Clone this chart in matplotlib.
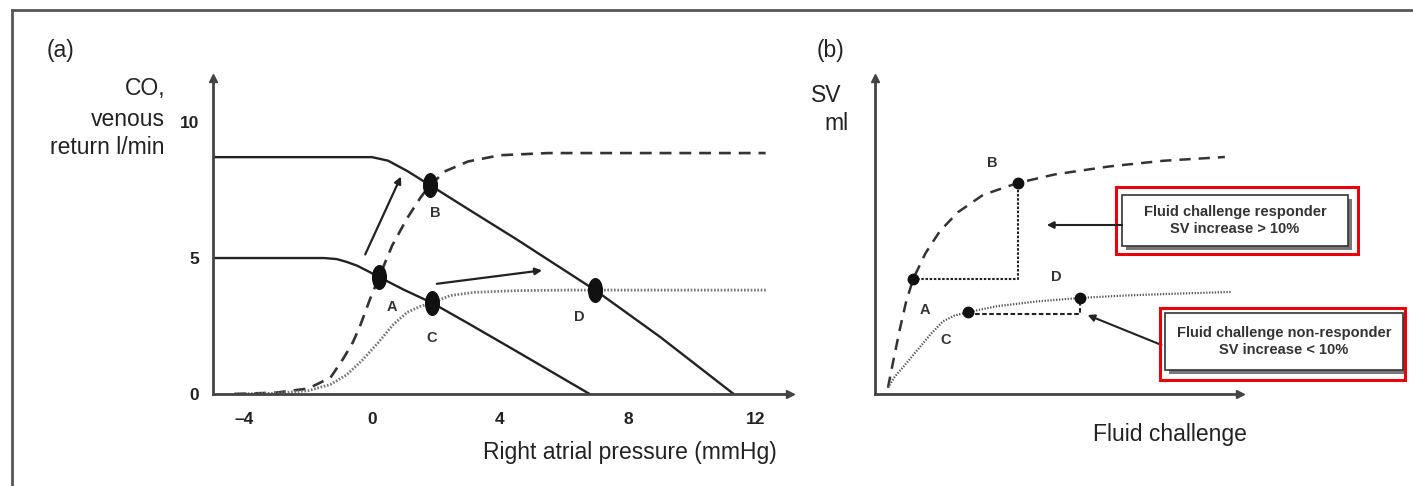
import numpy as np
import matplotlib.pyplot as plt
from matplotlib.path import Path
from matplotlib.patches import Rectangle
from matplotlib.lines import Line2D

plt.rcParams["font.family"] = ["Liberation Sans", "DejaVu Sans"]

# ---- panel (a): venous return / cardiac function curves ----
vr_low_x = [-4.97, -1.5, -1.1, -0.8, -0.47, -0.1, 0.22, 1.0, 1.875, 3.0, 4.5, 6.8]
vr_low_y = [5.0, 5.0, 4.96, 4.86, 4.72, 4.5, 4.3, 3.83, 3.35, 2.6, 1.58, 0.0]
vr_high_x = [-4.97, 0.0, 0.5, 1.1, 1.81, 3.0, 4.5, 6.97, 9.0, 11.3]
vr_high_y = [8.71, 8.71, 8.58, 8.2, 7.68, 6.8, 5.7, 3.82, 2.1, 0.0]
norm_x = [-4.3, -3.0, -2.0, -1.3, -0.9, -0.6, -0.375, -0.06, 0.22, 0.625, 1.09, 1.5,
          1.81, 2.3, 3.0, 4.0, 5.5, 12.3]
norm_y = [0.0, 0.05, 0.2, 0.6, 1.3, 1.9, 2.5, 3.5, 4.3, 5.45, 6.45, 7.2,
          7.68, 8.2, 8.55, 8.78, 8.86, 8.86]
fail_x = [-4.3, -3.0, -2.0, -1.3, -0.8, -0.3, 0.2, 0.66, 1.09, 1.5, 1.875, 2.44,
          3.2, 4.5, 6.0, 12.3]
fail_y = [0.0, 0.03, 0.12, 0.35, 0.7, 1.25, 1.9, 2.55, 3.0, 3.22, 3.35, 3.62,
          3.74, 3.8, 3.82, 3.82]
pts_a = {"A": (0.22, 4.3), "B": (1.81, 7.68), "C": (1.875, 3.35), "D": (6.97, 3.82)}
lbl_a = {"A": (0.62, 3.2), "B": (1.97, 6.65), "C": (1.875, 2.06), "D": (6.47, 2.83)}
xticks_a = [-4, 0, 4, 8, 12]
xticklabels_a = ["\u20134", "0", "4", "8", "12"]
yticks_a = [0, 5, 10]

# ---- panel (b): SV vs fluid challenge ----
resp_x = [0.36, 0.5, 0.68, 0.86, 1.06, 1.4, 1.8, 2.3, 3.0, 3.97, 5.0, 6.5, 8.0, 9.72]
resp_y = [0.2, 1.0, 2.0, 2.9, 3.64, 4.45, 5.15, 5.75, 6.3, 6.68, 6.95, 7.2, 7.38, 7.5]
nonr_x = [0.36, 0.55, 0.78, 1.0, 1.25, 1.55, 1.89, 2.2, 2.58, 3.4, 4.5, 5.7, 7.0, 8.5, 9.92]
nonr_y = [0.2, 0.55, 0.85, 1.15, 1.49, 1.9, 2.3, 2.48, 2.59, 2.78, 2.93, 3.04, 3.12, 3.18, 3.23]
pts_b = {"A": (1.06, 3.64), "B": (3.97, 6.68), "C": (2.58, 2.59), "D": (5.7, 3.04)}
lbl_b = {"A": (1.39, 2.66), "B": (3.25, 7.31), "C": (1.97, 1.71), "D": (5.03, 3.7)}

W, H = 1413, 486
fig = plt.figure(figsize=(W / 100, H / 100), dpi=100)


def fx(px):
    return px / W


def fy(py):
    return 1 - py / H


ink = "#222222"
axis_col = "#444444"

# tall ellipse marker
circ = Path.unit_circle()
ell = Path(circ.vertices * np.array([0.58, 1.0]), circ.codes)


def arrow_axes(ax):
    for s in ["top", "right"]:
        ax.spines[s].set_visible(False)
    for s in ["left", "bottom"]:
        ax.spines[s].set_color(axis_col)
        ax.spines[s].set_linewidth(2)
    ax.plot(1, 0, ">", color=axis_col, ms=6, transform=ax.transAxes, clip_on=False)
    ax.plot(0, 1, "^", color=axis_col, ms=6, transform=ax.transAxes, clip_on=False)
    ax.tick_params(length=0, colors=ink)


# panel (a)
ax1 = fig.add_axes([fx(213), fy(394), fx(790 - 213), (394 - 78) / H])
ax1.set_xlim(-4.97, 13.06)
ax1.set_ylim(0, 11.62)
arrow_axes(ax1)
ax1.plot(vr_low_x, vr_low_y, color=ink, lw=1.7)
ax1.plot(vr_high_x, vr_high_y, color=ink, lw=1.7)
ax1.plot(norm_x, norm_y, color="#333333", lw=1.9, dashes=[4.5, 3.0])
ax1.plot(fail_x, fail_y, color="#777777", lw=2.0, dashes=[0.6, 0.6])
for k, (x, y) in pts_a.items():
    ax1.plot(x, y, marker=ell, ms=17, color="#111111", zorder=5)
    ax1.text(*lbl_a[k], k, ha="center", va="center", fontsize=10.5, fontweight="bold", color="#333333")
ax1.annotate("", xy=(0.94, 8.09), xytext=(-0.25, 5.04),
             arrowprops=dict(arrowstyle="-|>", color=ink, lw=1.6, mutation_scale=10))
ax1.annotate("", xy=(5.4, 4.56), xytext=(1.94, 4.04),
             arrowprops=dict(arrowstyle="-|>", color=ink, lw=1.6, mutation_scale=10))
ax1.set_xticks(xticks_a)
ax1.set_xticklabels(xticklabels_a, fontsize=12.5, fontweight="bold")
ax1.set_yticks(yticks_a)
ax1.set_yticklabels([str(v) for v in yticks_a], fontsize=12.5, fontweight="bold")
ax1.tick_params(axis="x", pad=13)
ax1.tick_params(axis="y", pad=10)
fig.text(fx(630), fy(452), "Right atrial pressure (mmHg)", ha="center", va="center", fontsize=16.5, color=ink)
fig.text(fx(165), fy(89), "CO,", ha="right", va="center", fontsize=16.5, color=ink)
fig.text(fx(165), fy(119), "venous", ha="right", va="center", fontsize=16.5, color=ink)
fig.text(fx(165), fy(147), "return l/min", ha="right", va="center", fontsize=16.5, color=ink)
fig.text(fx(60), fy(51), "(a)", ha="center", va="center", fontsize=16.5, color=ink)

# panel (b)
ax2 = fig.add_axes([fx(875), fy(394), fx(1240 - 875), (394 - 78) / H])
ax2.set_xlim(0, 10.14)
ax2.set_ylim(0, 10)
arrow_axes(ax2)
ax2.set_xticks([])
ax2.set_yticks([])
ax2.plot(resp_x, resp_y, color="#333333", lw=1.8, dashes=[4.5, 3.2])
ax2.plot(nonr_x, nonr_y, color="#555555", lw=1.6, dashes=[0.6, 0.7])
ax2.plot([pts_b["A"][0], pts_b["B"][0], pts_b["B"][0]],
         [pts_b["A"][1], pts_b["A"][1], pts_b["B"][1]], color=ink, lw=1.5, dashes=[1.2, 0.8])
ax2.plot([pts_b["C"][0], pts_b["D"][0], pts_b["D"][0]],
         [pts_b["C"][1] - 0.05, pts_b["C"][1] - 0.05, pts_b["D"][1]], color=ink, lw=1.5, dashes=[2.2, 1.2])
for k, (x, y) in pts_b.items():
    ax2.plot(x, y, "o", ms=7.5, color="#111111", zorder=5)
    ax2.text(*lbl_b[k], k, ha="center", va="center", fontsize=10.5, fontweight="bold", color="#333333")
fig.text(fx(1170), fy(434), "Fluid challenge", ha="center", va="center", fontsize=16.5, color=ink)
fig.text(fx(826), fy(95), "SV", ha="center", va="center", fontsize=16.5, color=ink)
fig.text(fx(836), fy(123), "ml", ha="center", va="center", fontsize=16.5, color=ink)
fig.text(fx(830), fy(50), "(b)", ha="center", va="center", fontsize=16.5, color=ink)


def callout(x0, y0, x1, y1, rx0, ry0, rx1, ry1, txt):
    # shadow, box, red frame, text
    fig.add_artist(Rectangle((fx(x0 + 4), fy(y1 + 4)), fx(x1 - x0), (y1 - y0) / H,
                             facecolor="#777777", edgecolor="none", transform=fig.transFigure))
    fig.add_artist(Rectangle((fx(x0), fy(y1)), fx(x1 - x0), (y1 - y0) / H,
                             facecolor="white", edgecolor="#333333", lw=1.2, transform=fig.transFigure))
    fig.add_artist(Rectangle((fx(rx0), fy(ry1)), fx(rx1 - rx0), (ry1 - ry0) / H,
                             facecolor="none", edgecolor="#e8000b", lw=2.2, transform=fig.transFigure))
    fig.text(fx((x0 + x1) / 2), fy((y0 + y1) / 2), txt, ha="center", va="center",
             fontsize=10.5, fontweight="bold", color="#333333", linespacing=1.2)


callout(1122, 195, 1348, 246, 1116, 187, 1358, 254, "Fluid challenge responder\nSV increase > 10%")
callout(1165, 313, 1403, 370, 1160, 308, 1405, 380, "Fluid challenge non-responder\nSV increase < 10%")
fig.add_artist(Line2D([fx(1122), fx(1055)], [fy(225), fy(225)], color=ink, lw=1.5, transform=fig.transFigure))
ax2.annotate("", xy=(fx(1044), fy(225)), xytext=(fx(1060), fy(225)), xycoords="figure fraction",
             arrowprops=dict(arrowstyle="-|>", color=ink, lw=1.5, mutation_scale=10))
ax2.annotate("", xy=(fx(1085), fy(314)), xytext=(fx(1164), fy(346)), xycoords="figure fraction",
             arrowprops=dict(arrowstyle="-|>", color=ink, lw=1.5, mutation_scale=10))

# outer frame
fig.add_artist(Line2D([fx(12), 1], [fy(10), fy(10)], color="#555555", lw=2, transform=fig.transFigure))
fig.add_artist(Line2D([fx(12), fx(12)], [fy(10), 0], color="#555555", lw=2, transform=fig.transFigure))

fig.savefig("out.png", dpi=100)
